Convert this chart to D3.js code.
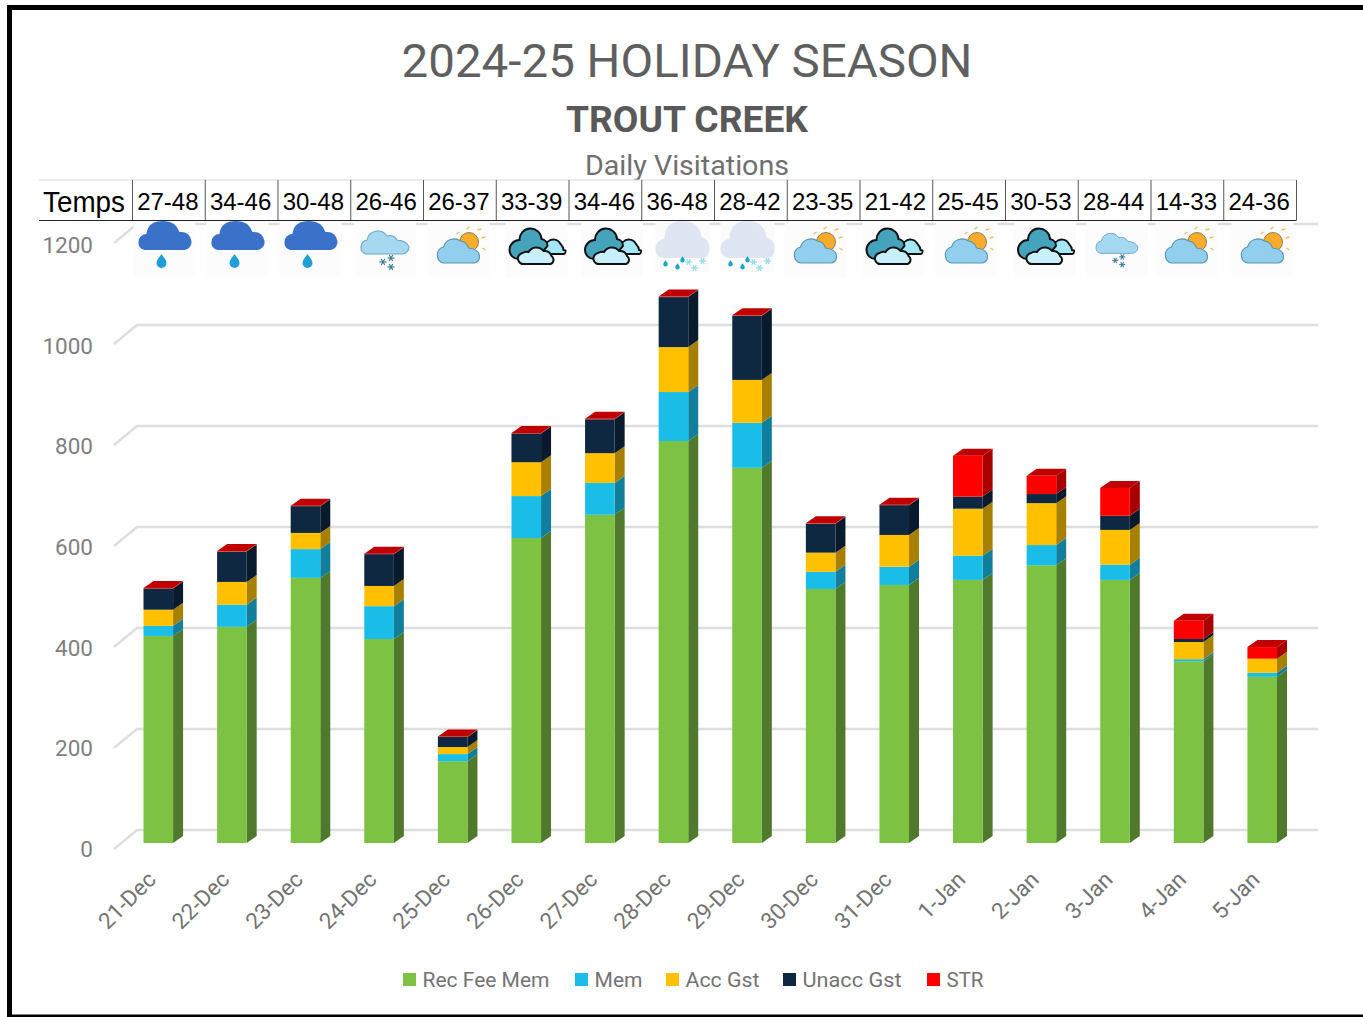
<!DOCTYPE html>
<html><head><meta charset="utf-8">
<script src="https://cdn.jsdelivr.net/npm/d3@7"></script>
<style>html,body{margin:0;padding:0;background:#fff}svg{display:block}text{font-family:Roboto,sans-serif}</style>
</head><body><svg id="c" width="1363" height="1017"></svg>
<script>
const dates=["21-Dec","22-Dec","23-Dec","24-Dec","25-Dec","26-Dec","27-Dec","28-Dec","29-Dec","30-Dec","31-Dec","1-Jan","2-Jan","3-Jan","4-Jan","5-Jan"];
const recFeeMem=[410,428,525,404,162,604,650,796,743,503,511,521,550,521,360,329];
const mem=[20,44,57,65,14,83,63,97,89,34,36,48,40,30,4,8];
const accGst=[32,45,32,40,14,67,59,89,85,38,63,93,83,69,34,28];
const unaccGst=[42,60,53,63,20,57,67,99,127,57,59,24,18,28,6,0];
const str=[1,1,1,1,1,1,1,1,1,1,1,81,36,55,36,23];
const temps=["27-48","34-46","30-48","26-46","26-37","33-39","34-46","36-48","28-42","23-35","21-42","25-45","30-53","28-44","14-33","24-36"];
const weather=["rain","rain","rain","snow","sun","cloud","cloud","mix","mix","sun","cloud","sun","cloud","snow2","sun","sun"];
const yTicks=[0,200,400,600,800,1000,1200];
const seriesNames=["Rec Fee Mem","Mem","Acc Gst","Unacc Gst","STR"];
const seriesValues=[recFeeMem,mem,accGst,unaccGst,str];
const colors=["#7dc242","#19bde8","#ffc000","#0e2841","#ff0000"];
const sideColors=["#4f7a2c","#117f9c","#a88000","#081a2b","#a80000"];
const topColor="#c00000";
const iconCenters=[164.5,237.5,310.5,385,458.5,536.5,612,682.5,747.5,815.5,893.5,966.5,1045,1117,1186.5,1262.5];

const svg=d3.select("#c");
const dx=10,dy=7;
const x=d3.scaleBand().domain(dates).range([121.5,1299]).paddingInner(0.598).paddingOuter(0.299);
const y=d3.scaleLinear().domain([0,1200]).range([843,237]);
const yLabel=d3.scaleLinear().domain([0,1200]).range([857,253]);

// frame
svg.append("path").attr("d","M9.5,1017V7.5H1363").attr("fill","none").attr("stroke","#000").attr("stroke-width",5);
svg.append("path").attr("d","M7,1016H1363").attr("fill","none").attr("stroke","#000").attr("stroke-width",3);

// titles
const tc=svg.append("g").attr("text-anchor","middle");
tc.append("text").attr("x",687).attr("y",77).attr("font-size",47).attr("fill","#5f5f5f").attr("textLength",571).attr("lengthAdjust","spacingAndGlyphs").text("2024-25 HOLIDAY SEASON");
tc.append("text").attr("x",687).attr("y",132).attr("font-size",37).attr("font-weight",700).attr("fill","#595959").attr("textLength",242).attr("lengthAdjust","spacingAndGlyphs").text("TROUT CREEK");
tc.append("text").attr("x",687).attr("y",175).attr("font-size",27).attr("fill","#6f6f6f").attr("textLength",204).attr("lengthAdjust","spacingAndGlyphs").text("Daily Visitations");

// grid: floor diagonal + back wall lines
const grid=svg.append("g").attr("stroke","#dedede").attr("stroke-width",2.5).attr("fill","none");
yTicks.forEach(t=>{
  const py=y(t);
  grid.append("path").attr("d",`M114,${py+6}L137,${py-13}H1318`);
});
svg.append("g").selectAll("text").data(yTicks).join("text")
  .attr("x",93).attr("y",t=>yLabel(t)).attr("text-anchor","end").attr("font-size",22.5).attr("fill","#7f7f7f").text(d=>d);

// bars
const stackData=dates.map((d,i)=>{let c=0;return seriesValues.map((s,k)=>{const r={k,d,a:c,b:c+s[i]};c+=s[i];return r;});});
const bw=x.bandwidth();
const bars=svg.append("g").selectAll("g").data(stackData).join("g");
bars.each(function(segs){
  const g=d3.select(this);
  segs.forEach(s=>{
    const x0=x(s.d),x1=x0+bw,ya=y(s.a),yb=y(s.b);
    if(ya-yb<=0) return;
    g.append("path").attr("d",`M${x1},${ya}L${x1+dx},${ya-dy}V${yb-dy}L${x1},${yb}Z`).attr("fill",sideColors[s.k]);
    g.append("rect").attr("x",x0).attr("y",yb).attr("width",bw).attr("height",ya-yb).attr("fill",colors[s.k]);
  });
  const t=segs[segs.length-1],x0=x(t.d),yt=y(t.b);
  g.append("path").attr("d",`M${x0},${yt}L${x0+dx},${yt-dy}H${x0+bw+dx}L${x0+bw},${yt}Z`).attr("fill",topColor);
});

// x labels
svg.append("g").selectAll("text").data(dates).join("text")
 .attr("transform",d=>`translate(${x(d)+bw/2-13},${869}) rotate(-45)`)
 .attr("text-anchor","end").attr("font-size",22.5).attr("fill","#737373").attr("dy","0.75em").text(d=>d);

// legend
const lx=[403,575,666,783,927];
const lw=[127,48,74,99,37];
const lg=svg.append("g").selectAll("g").data(seriesNames).join("g").attr("transform",(d,i)=>`translate(${lx[i]},973)`);
lg.append("rect").attr("width",13).attr("height",13).attr("fill",(d,i)=>colors[i]);
lg.append("text").attr("x",19.5).attr("y",14).attr("font-size",21).attr("fill","#737373").attr("textLength",(d,i)=>lw[i]).attr("lengthAdjust","spacingAndGlyphs").text(d=>d);

// table
const tb=svg.append("g");
const tx=d3.scalePoint().domain(d3.range(17)).range([132.5,1296.5]);
const cellW=(1296.5-132.5)/16;
tb.append("rect").attr("x",39).attr("y",180).attr("width",1257.5).attr("height",40).attr("fill","#fff");
tb.append("path").attr("d","M39,180H1296.5").attr("stroke","#d9d9d9").attr("fill","none");
tb.append("path").attr("d","M39,220.5H1296.5").attr("stroke","#222").attr("fill","none");
tb.selectAll("line").data(d3.range(17)).join("line").attr("x1",i=>tx(i)).attr("x2",i=>tx(i)).attr("y1",180).attr("y2",220).attr("stroke","#555");
tb.append("text").attr("x",43).attr("y",212).style("font-family","Liberation Sans").attr("font-size",30).attr("fill","#000").attr("textLength",82).attr("lengthAdjust","spacingAndGlyphs").text("Temps");
tb.selectAll("text.t").data(temps).join("text").attr("class","t").attr("x",(d,i)=>tx(i)+cellW/2-1).attr("y",210)
  .attr("text-anchor","middle").style("font-family","Liberation Sans").attr("font-size",24).attr("fill","#000").text(d=>d);

// weather icons
function star(g,cx,cy,r,col){[0,60,120].forEach(a=>{const t=a*Math.PI/180;g.append("line").attr("x1",cx-r*Math.cos(t)).attr("y1",cy-r*Math.sin(t)).attr("x2",cx+r*Math.cos(t)).attr("y2",cy+r*Math.sin(t)).attr("stroke",col).attr("stroke-width",1.2);});}
function drop(g,cx,cy,s,col){g.append("path").attr("d",`M${cx},${cy-6*s}C${cx+2*s},${cy-3*s} ${cx+5*s},${cy} ${cx+5*s},${cy+3*s}a${5*s},${5*s} 0 0 1 ${-10*s},0C${cx-5*s},${cy} ${cx-2*s},${cy-3*s} ${cx},${cy-6*s}z`).attr("fill",col);}
function sunIcon(g){
  g.append("circle").attr("cx",10.5).attr("cy",-7).attr("r",9.5).attr("fill","#f9ab2a").attr("stroke","#6f6a50").attr("stroke-width",.8);
  [[-2,-15,1,-17],[8,-20,11,-22],[19,-19,23,-20],[23,-11,27,-12],[24,-1,27,1]].forEach(r=>g.append("line").attr("x1",r[0]).attr("y1",r[1]).attr("x2",r[2]).attr("y2",r[3]).attr("stroke","#f0c060").attr("stroke-width",1.5));
  g.append("path").attr("d","M-15,14a7,7 0 0 1 -6,-7a7.5,7.5 0 0 1 6,-9a11,11 0 0 1 17,-6a10,10 0 0 1 8,7q11,1 11,9a6,6 0 0 1 -6,6z").attr("fill","#92cfee").attr("stroke","#5b93ad").attr("stroke-width",1.1);
}
function cloudIcon(g){
  g.append("path").attr("d","M5,2a6,6 0 0 1 6,-9a8,8 0 0 1 13,2q3,3 3,6q3,0 2,2a2,2 0 0 1 -2,2h-22z").attr("fill","#a5e8f5").attr("stroke","#111").attr("stroke-width",1.8);
  g.append("path").attr("d","M-18,10a9,9 0 0 1 -9,-9a10,10 0 0 1 10,-10a11,11 0 0 1 22,-1a7,7 0 0 1 6,7l-11,13z").attr("fill","#45a3bb").attr("stroke","#111").attr("stroke-width",2);
  g.append("path").attr("d","M-12,15a5.5,5.5 0 0 1 -2,-11q3,-2 6,-1a9,9 0 0 1 15,-1a7,7 0 0 1 8,5a4.5,4.5 0 0 1 -1,8z").attr("fill","#c7f0fa").attr("stroke","#111").attr("stroke-width",2);
}
function snowIcon(g){
  g.append("path").attr("d","M-19,5a6.5,6.5 0 0 1 -5,-7a7,7 0 0 1 6,-7a11,11 0 0 1 20,-4a8,8 0 0 1 10,4q10,1 12,7a7,7 0 0 1 -7,7z").attr("fill","#a7d8f2").attr("stroke","#6aa5c7").attr("stroke-width",1.1);
  star(g,-2,13,3.5,"#3a7a9a");star(g,6,9,3.5,"#3a7a9a");star(g,6,18,3.5,"#3a7a9a");
}
const icons=svg.append("g").selectAll("g").data(weather).join("g")
 .attr("transform",(d,i)=>`translate(${iconCenters[i]},${249})`);
icons.each(function(w){
  const g=d3.select(this);
  if(w=="mix"){
    g.append("rect").attr("x",-27).attr("y",-28).attr("width",54).attr("height",51).attr("fill","#fbfbfb");
    g.append("path").attr("d","M-19,9a9,9 0 0 1 -8,-10a9,9 0 0 1 9,-9q0,-18 18,-18q17,0 19,16a11,11 0 0 1 8,11q0,10 -8,10z").attr("fill","#dfe5f2");
    [[-23,13],[-11,16],[-6,9]].forEach(p=>drop(g,p[0]+6,p[1]+1,.45,"#18a6cc"));
    [[6,12],[12,18],[20,11]].forEach(p=>star(g,p[0],p[1]+1,3.5,"#8fdcea"));
  } else {
    g.append("rect").attr("x",-31).attr("y",-28).attr("width",62).attr("height",56).attr("fill","#fcfcfc");
    if(w=="rain"){
      g.append("path").attr("d","M-20,1a7,7 0 0 1 -6,-8a8,8 0 0 1 8,-8q1,-13 17,-13q12,0 16,11q10,-1 12,9a8,8 0 0 1 -7,9z").attr("fill","#3a72c9");
      drop(g,-3,11,1,"#1f9fd6");
    } else if(w=="snow"){
      snowIcon(g);
    } else if(w=="snow2"){
      const s=g.append("g").attr("transform","scale(.87)");
      snowIcon(s);
    } else if(w=="sun"){
      sunIcon(g);
    } else {
      cloudIcon(g);
    }
  }
});
</script></body></html>
